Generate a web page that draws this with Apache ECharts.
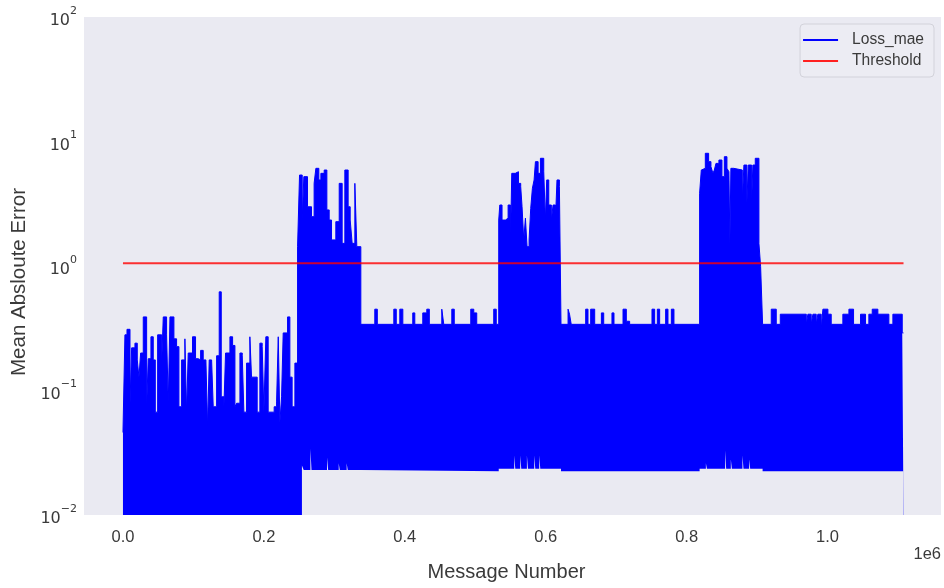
<!DOCTYPE html>
<html>
<head>
<meta charset="utf-8">
<script src="https://cdn.jsdelivr.net/npm/echarts@6/dist/echarts.min.js"></script>
<style>
  html, body { margin: 0; background: #fff; }
  #chart { width: 944px; height: 588px; }
</style>
</head>
<body>
<div id="chart"></div>
<script>
// upper edge of the dense Loss_mae trace (message number, MAE)
const lossX = [
  0, 2800, 5700, 10000, 12300, 17000, 20300, 22700, 25100, 28800, 33600, 35900, 39700, 43000, 45900,
  49200, 54900, 57200, 61900, 64300, 66700, 72300, 76100, 79400, 83200, 87900, 90300, 92600, 98700,
  103000, 106900, 110200, 113900, 117700, 120100, 122400, 125800, 128100, 132900, 136600, 139500,
  143300, 145600, 151800, 155600, 158900, 161300, 166000, 169300, 171600, 175400, 180100, 182500,
  190500, 194300, 197600, 200000, 202800, 206100, 214600, 218000, 220400, 222700, 225100, 227400,
  233600, 236900, 240100, 244000,
  247800, 250600, 254400, 256700, 261900, 267600, 271300, 273800, 278000, 280900, 285600, 289400,
  292700, 296000, 302100, 306900, 311100, 314900, 319600, 322500, 325300, 329100, 331900, 337600,
  357400, 361000, 384400, 387900, 392900, 397200, 411300, 414200, 425500, 431200, 434800, 452500,
  455300, 466700, 470200, 493600, 497900, 502100, 526200, 529800,
  533300, 534800, 538000, 542800, 546600, 549900, 551800, 556800, 561300, 564500, 566400, 568800,
  571200, 573500, 576400, 578700, 581100, 583500, 585400, 589200, 592500, 597200, 599500, 601400,
  604300, 608000, 610400, 613800, 616000, 619400, 621700,
  631700, 633800, 636200, 656700, 660000, 663800, 669500, 679000, 682300, 694000, 696900, 709700,
  714400, 719100, 750800, 754600, 758400, 761700, 770200, 773500, 778300, 782000,
  818400, 820800, 823100, 826500, 831200, 834500, 837300, 839300, 841600, 845800, 850100, 853500,
  857200, 860000, 861400, 862800, 866700, 879000, 881300, 885500, 887500, 892200, 894000, 897400,
  902600, 905000, 907800,
  920100, 927200, 932900, 969800, 972100, 976800, 979200, 983900, 986200, 991000, 993400, 1000500,
  1005200, 1021700, 1030300, 1036900, 1046800, 1053900, 1058600, 1063400, 1071400, 1087000,
  1092700, 1106000, 1107800
];
const lossY = [
  0.046, 0.28, 0.31, 0.079, 0.22, 0.24, 0.176, 0.128, 0.20, 0.39, 0.074, 0.18, 0.27, 0.176, 0.067,
  0.28, 0.166, 0.39, 0.28, 0.079, 0.39, 0.26, 0.225, 0.074, 0.176, 0.26, 0.067, 0.20, 0.27,
  0.18, 0.176, 0.21, 0.176, 0.17, 0.051, 0.176, 0.18, 0.074, 0.19, 0.62, 0.089,
  0.074, 0.20, 0.27, 0.23, 0.074, 0.079, 0.20, 0.19, 0.067, 0.166, 0.27, 0.128,
  0.067, 0.24, 0.225, 0.067, 0.27, 0.067, 0.074, 0.081, 0.27, 0.055, 0.089, 0.29,
  0.39, 0.128, 0.074, 0.166,
  1.43, 5.38, 2.34, 5.22, 2.99, 2.49, 4.61, 6.09, 4.91, 5.55, 5.90, 2.82,
  2.34, 1.62, 2.27, 4.61, 1.52, 5.90, 2.99, 2.34, 1.52, 4.61, 1.43, 0.34,
  0.45, 0.34, 0.45, 0.34, 0.45, 0.34, 0.42, 0.34, 0.42, 0.45, 0.34, 0.45,
  0.34, 0.45, 0.34, 0.45, 0.42, 0.34, 0.45, 0.34,
  2.34, 3.09, 2.34, 2.42, 3.09, 1.43, 5.55, 5.72, 4.61, 4.34, 2.99, 1.62,
  2.42, 1.43, 1.62, 2.90, 4.21, 4.91, 6.89, 5.55, 7.33, 5.72, 2.34, 4.91,
  3.09, 2.34, 3.09, 2.34, 4.91, 4.34, 0.34,
  0.45, 0.41, 0.34, 0.45, 0.34, 0.45, 0.34, 0.42, 0.34, 0.42, 0.34, 0.45,
  0.36, 0.34, 0.45, 0.34, 0.45, 0.34, 0.45, 0.34, 0.45, 0.34,
  3.84, 5.90, 6.09, 8.04, 6.89, 6.28, 5.55, 5.90, 6.67, 7.10, 5.22, 7.55,
  6.09, 5.72, 1.52, 6.09, 5.90, 3.39, 6.47, 3.19, 6.47, 3.19, 6.47, 7.33,
  1.52, 0.99, 0.34,
  0.45, 0.34, 0.41, 0.34, 0.41, 0.34, 0.41, 0.34, 0.41, 0.31, 0.45, 0.41,
  0.34, 0.41, 0.45, 0.34, 0.41, 0.34, 0.41, 0.45, 0.41, 0.34,
  0.41, 0.29, 0.29
];

// lower edge of the trace after ~0.25e6 (below it the background shows)
const floorX = [
  254000, 256500, 266000, 267600, 289600, 291200, 306200, 307700, 317500, 319000, 337600,
  533300, 555300, 556800, 563800, 565300, 573300, 574800, 583700, 585200, 590800, 592300, 621700,
  818400, 827300, 828800, 854600, 856100, 862700, 864200, 879200, 880700, 888700, 890200, 907800,
  1107800
];
const floorY = [
  0.025, 0.023, 0.034, 0.023, 0.029, 0.023, 0.026, 0.023, 0.026, 0.023, 0.0225,
  0.0235, 0.030, 0.0235, 0.030, 0.0235, 0.030, 0.0235, 0.030, 0.0235, 0.030, 0.0235, 0.0225,
  0.0235, 0.026, 0.0235, 0.033, 0.0235, 0.028, 0.0235, 0.030, 0.0235, 0.028, 0.0235, 0.0225,
  0.0225
];

const thresholdX = [0, 1107800];
const thresholdY = [1.05, 1.05];

const xTicks = [0, 200000, 400000, 600000, 800000, 1000000];

const zip = (xs, ys) => xs.map((x, i) => [x, ys[i]]);

const bg = '#EAEAF2';
const ink = '#3a3a3a';
const font = '"Liberation Sans", Arial, sans-serif';
const mathFont = '"DejaVu Sans", sans-serif';

const chart = echarts.init(document.getElementById('chart'));

const option = {
  animation: false,
  textStyle: { fontFamily: font },
  grid: {
    left: 84, right: 3, top: 17, bottom: 73,
    outerBoundsMode: 'none',
    containLabel: false,
    show: true, backgroundColor: bg, borderWidth: 0
  },
  legend: {
    data: ['Loss_mae', 'Threshold'],
    orient: 'vertical',
    right: 10, top: 24,
    icon: 'rect',
    itemWidth: 35, itemHeight: 2, itemGap: 5,
    backgroundColor: 'rgba(236,236,243,0.9)',
    borderColor: '#d2d2da', borderWidth: 1, borderRadius: 4,
    padding: [8, 10, 8, 3],
    textStyle: { fontSize: 15.6, color: ink, padding: [0, 0, 0, 9], fontFamily: font }
  },
  xAxis: {
    type: 'value',
    min: -55300, max: 1161000,
    axisLine: { show: false },
    axisTick: { show: false },
    splitLine: { show: false },
    axisLabel: {
      customValues: xTicks,
      formatter: v => (v / 1e6).toFixed(1),
      fontSize: 16.5, color: ink, margin: 14
    },
    name: 'Message Number',
    nameLocation: 'middle',
    nameGap: 47,
    nameTextStyle: { fontSize: 20, color: ink, padding: [0, 12, 0, 0] }
  },
  yAxis: {
    type: 'log',
    logBase: 10,
    min: 0.01, max: 100,
    axisLine: { show: false },
    axisTick: { show: false },
    splitLine: { show: false },
    axisLabel: {
      margin: 7,
      formatter: v => {
        const e = Math.round(Math.log10(v));
        return '{b|10}{s|' + (e < 0 ? '\u2212' + (-e) : e) + '}';
      },
      rich: {
        b: { fontSize: 16, fontFamily: mathFont, color: ink, padding: [8, 0, 0, 0] },
        s: { fontSize: 11, fontFamily: mathFont, color: ink, padding: [0, 0, 12, 0] }
      }
    },
    name: 'Mean Absloute Error',
    nameLocation: 'middle',
    nameGap: 54,
    nameTextStyle: { fontSize: 20.5, color: ink, padding: [0, 32, 0, 0] }
  },
  graphic: [{
    type: 'text', right: 3, top: 546,
    style: { text: '1e6', fontSize: 16.5, fill: ink, fontFamily: font }
  }],
  series: [
    {
      name: 'Loss_mae',
      type: 'line',
      step: 'end',
      data: zip(lossX, lossY),
      showSymbol: false,
      itemStyle: { color: '#0000ff' },
      lineStyle: { color: '#0000ff', width: 1 },
      areaStyle: { color: '#0000ff', opacity: 1, origin: 0.01 },
      z: 2
    },
    {
      name: 'floor',
      type: 'line',
      step: 'end',
      data: zip(floorX, floorY),
      showSymbol: false,
      silent: true,
      lineStyle: { width: 0, opacity: 0 },
      areaStyle: { color: bg, opacity: 1, origin: 0.01 },
      z: 3
    },
    {
      name: 'Threshold',
      type: 'line',
      data: zip(thresholdX, thresholdY),
      showSymbol: false,
      itemStyle: { color: '#ff2020' },
      lineStyle: { color: '#ff0000', width: 2, opacity: 0.8 },
      z: 4
    }
  ]
};

chart.setOption(option);
</script>
</body>
</html>
